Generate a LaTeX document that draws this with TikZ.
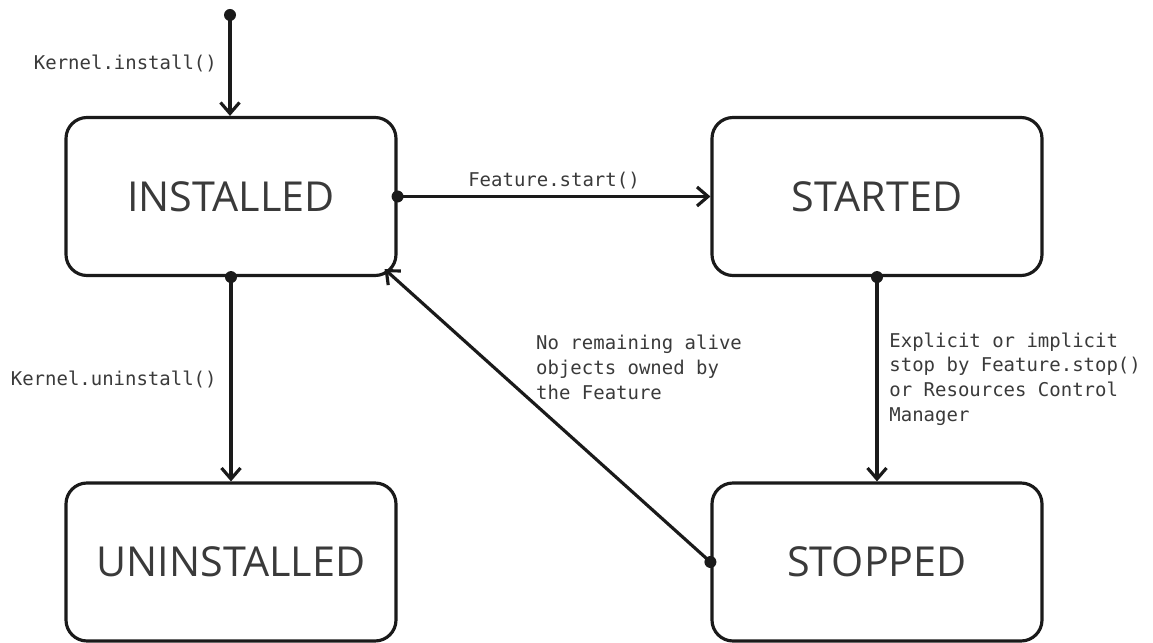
\documentclass[tikz,border=0pt]{standalone}
\usepackage{fontspec}
\setmainfont{Open Sans}
\setmonofont{DejaVu Sans Mono}
\usepackage{tikz}
\usetikzlibrary{arrows.meta,positioning}
\definecolor{ink}{HTML}{1A1A1A}
\definecolor{txt}{HTML}{3A3A3A}

\begin{document}
\begin{tikzpicture}[
  state/.style={draw=ink, line width=1.8pt, rounded corners=0.42cm, minimum width=6.6cm, minimum height=3.16cm, text=txt, font=\fontsize{23.5}{28}\selectfont},
  trans/.style={draw=ink, line width=1.8pt, -{Straight Barb[length=0.22cm, width=0.38cm]}},
  lbl/.style={text=txt, font=\ttfamily\fontsize{10.8}{14.2}\selectfont, align=left},
  dot/.style={fill=ink}
]
\useasboundingbox (0,0) rectangle (23.06,12.84);
\node[state] (ins) at (4.62,8.91) {INSTALLED};
\node[state] (sta) at (17.54,8.91) {STARTED};
\node[state] (uni) at (4.62,1.60) {UNINSTALLED};
\node[state] (sto) at (17.54,1.60) {STOPPED};
\coordinate (init) at (4.60,12.54);
\coordinate (insc) at ([shift={(-0.26,0.16)}]ins.south east);
% initial transition
\fill[dot] (init) circle (0.12);
\draw[trans] (init) -- (init |- ins.north);
\node[lbl, anchor=east] (kinst) at (4.46,11.58) {Kernel.install()};
% INSTALLED -> STARTED
\fill[dot] (ins.east) circle (0.12);
\draw[trans] (ins.east) -- node[lbl, above] (fstart) {Feature.start()} (sta.west);
% INSTALLED -> UNINSTALLED
\fill[dot] (ins.south) circle (0.12);
\draw[trans] (ins.south) -- node[lbl, left=0.14cm] (kuninst) {Kernel.uninstall()} (uni.north);
% STARTED -> STOPPED
\fill[dot] (sta.south) circle (0.12);
\draw[trans] (sta.south) -- node[lbl, right=0.1cm] (fstop) {Explicit or implicit\\stop by Feature.stop()\\or Resources Control\\Manager} (sto.north);
% STOPPED -> INSTALLED
\fill[dot] (sto.west) circle (0.12);
\draw[trans] (sto.west) -- (insc);
\node[lbl, anchor=west] (noalive) at (10.60,5.49) {No remaining alive\\objects owned by\\the Feature};
\end{tikzpicture}
\end{document}
